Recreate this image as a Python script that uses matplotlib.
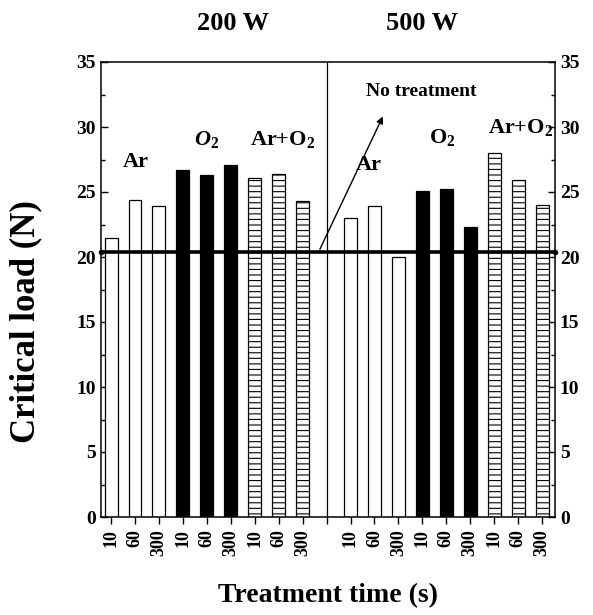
import numpy as np
import matplotlib.pyplot as plt
from matplotlib.ticker import MultipleLocator

plt.rcParams['font.family'] = ['Liberation Serif', 'DejaVu Serif']
plt.rcParams['font.weight'] = 'bold'
plt.rcParams['hatch.linewidth'] = 0.8
plt.rcParams['mathtext.fontset'] = 'custom'
plt.rcParams['mathtext.rm'] = 'Liberation Serif:bold'
plt.rcParams['mathtext.it'] = 'Liberation Serif:bold:italic'
plt.rcParams['mathtext.bf'] = 'Liberation Serif:bold'

# data (critical load, N)
times = ['10', '60', '300']
gases = ['Ar', 'O2', 'Ar+O2']
load_200w = [21.5, 24.4, 23.9, 26.7, 26.3, 27.1, 26.1, 26.4, 24.3]
load_500w = [23.0, 23.9, 20.0, 25.1, 25.2, 22.3, 28.0, 25.9, 24.0]
no_treatment = 20.4

fig = plt.figure(figsize=(5.93, 6.15), dpi=100)
ax = fig.add_axes([101 / 593, 1 - 517 / 615, 454 / 593, 455 / 615])

pos_200 = np.arange(9)
pos_500 = np.arange(10, 19)
styles = [dict(color='white', hatch=None),
          dict(color='black', hatch=None),
          dict(color='white', hatch='---')]

for pos, vals in [(pos_200, load_200w), (pos_500, load_500w)]:
    for g in range(3):
        s = styles[g]
        ax.bar(pos[g * 3:g * 3 + 3], vals[g * 3:g * 3 + 3], width=0.54,
               color=s['color'], edgecolor='black', hatch=s['hatch'],
               linewidth=0.9, zorder=2)

ax.axhline(no_treatment, color='black', lw=2.6, zorder=3)
ax.plot([-0.42, 18.54], [no_treatment] * 2, 'o', color='black', ms=3,
        clip_on=False, zorder=4)
ax.axvline(9, color='black', lw=0.9, zorder=1)

ax.set_xlim(-0.42, 18.54)
ax.set_ylim(0, 35)

xt = list(pos_200) + [9] + list(pos_500)
xl = times * 3 + [''] + times * 3
ax.set_xticks(xt)
ax.set_xticklabels(xl, rotation=90, fontsize=13, fontweight='bold')
ax.tick_params(axis='x', direction='out', length=5, width=1)

ax.yaxis.set_major_locator(MultipleLocator(5))
ax.yaxis.set_minor_locator(MultipleLocator(2.5))
ax.tick_params(axis='y', which='both', direction='in', right=True,
               labelright=True, labelsize=14, width=1)
ax.tick_params(axis='y', which='major', length=5)
ax.tick_params(axis='y', which='minor', length=3)
for lab in ax.get_yticklabels():
    lab.set_fontweight('bold')

for sp in ax.spines.values():
    sp.set_linewidth(1.1)

fig.text(26 / 593, 1 - 322 / 615, 'Critical load (N)', rotation=90,
         ha='center', va='center', fontsize=25, fontweight='bold')
ax.set_xlabel('Treatment time (s)', fontsize=20, fontweight='bold', labelpad=20)

# group labels
ax.text(1.04, 27.3, 'Ar', ha='center', va='center', fontsize=16)
ax.text(4.0, 29.0, r'$O_2$', ha='center', va='center', fontsize=16)
ax.text(7.15, 29.0, r'Ar+O$_2$', ha='center', va='center', fontsize=16)
ax.text(10.75, 27.1, 'Ar', ha='center', va='center', fontsize=16)
ax.text(13.85, 29.2, r'O$_2$', ha='center', va='center', fontsize=16)
ax.text(17.1, 30.0, r'Ar+O$_2$', ha='center', va='center', fontsize=16)

ax.text(10.65, 32.7, 'No treatment', ha='left', va='center', fontsize=14)
ax.annotate('', xy=(11.4, 31.0), xytext=(8.67, no_treatment),
            arrowprops=dict(arrowstyle='-|>', color='black', lw=1,
                            mutation_scale=10))

fig.text(233 / 593, 1 - 24 / 615, '200 W', ha='center', va='center', fontsize=19)
fig.text(422 / 593, 1 - 24 / 615, '500 W', ha='center', va='center', fontsize=19)

fig.savefig('out.png', dpi=100)
